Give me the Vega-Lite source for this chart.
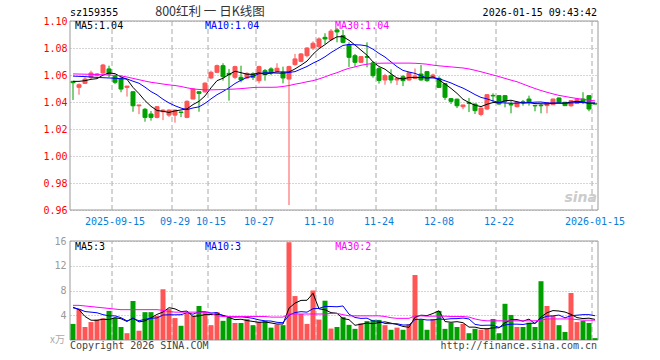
{
"$schema":"https://vega.github.io/schema/vega-lite/v6.json",
"width":528,"height":319,
"autosize":{"type":"none"},
"padding":{"left":70,"top":21,"right":62,"bottom":20},
"background":"white",
"config":{"view":{"stroke":null},"font":"DejaVu Sans Mono"},
"datasets":{
"k":[
{"d":"2025-09-04","o":1.0553,"h":1.0556,"l":1.0415,"c":1.0543,"v":2.6,"m5":1.0553,"m10":1.0592,"m30":1.0608,"v5":5.3,"v10":5.2,"v30":5.6},
{"d":"2025-09-05","o":1.0509,"h":1.0538,"l":1.0454,"c":1.0528,"v":5.0,"m5":1.0553,"m10":1.059,"m30":1.0607,"v5":4.9,"v10":5.0,"v30":5.6},
{"d":"2025-09-08","o":1.0538,"h":1.0583,"l":1.0533,"c":1.057,"v":2.1,"m5":1.0558,"m10":1.0588,"m30":1.0606,"v5":3.8,"v10":4.6,"v30":5.5},
{"d":"2025-09-09","o":1.0583,"h":1.0632,"l":1.057,"c":1.0615,"v":2.9,"m5":1.0568,"m10":1.0585,"m30":1.0605,"v5":3.2,"v10":4.5,"v30":5.4},
{"d":"2025-09-10","o":1.0595,"h":1.0614,"l":1.059,"c":1.0608,"v":3.3,"m5":1.0573,"m10":1.0582,"m30":1.0603,"v5":3.18,"v10":4.4,"v30":5.3},
{"d":"2025-09-11","o":1.0615,"h":1.0682,"l":1.0608,"c":1.0674,"v":3.5,"m5":1.0599,"m10":1.058,"m30":1.0602,"v5":3.36,"v10":4.1,"v30":5.2},
{"d":"2025-09-12","o":1.0645,"h":1.0669,"l":1.0583,"c":1.0608,"v":4.7,"m5":1.0615,"m10":1.0578,"m30":1.06,"v5":3.3,"v10":3.9,"v30":5.1},
{"d":"2025-09-15","o":1.059,"h":1.0603,"l":1.0533,"c":1.0546,"v":3.6,"m5":1.061,"m10":1.0576,"m30":1.0597,"v5":3.6,"v10":3.9,"v30":5.0},
{"d":"2025-09-16","o":1.0575,"h":1.0588,"l":1.0472,"c":1.0496,"v":2.1,"m5":1.0586,"m10":1.0572,"m30":1.0594,"v5":3.44,"v10":3.6,"v30":4.9},
{"d":"2025-09-17","o":1.0508,"h":1.0518,"l":1.044,"c":1.0518,"v":1.1,"m5":1.0568,"m10":1.0571,"m30":1.0585,"v5":3.0,"v10":3.09,"v30":4.9},
{"d":"2025-09-18","o":1.0476,"h":1.048,"l":1.0328,"c":1.0372,"v":6.3,"m5":1.0508,"m10":1.0554,"m30":1.0575,"v5":3.56,"v10":3.46,"v30":4.9},
{"d":"2025-09-19","o":1.0372,"h":1.0378,"l":1.031,"c":1.0378,"v":1.5,"m5":1.0462,"m10":1.0539,"m30":1.0565,"v5":2.92,"v10":3.11,"v30":4.9},
{"d":"2025-09-22","o":1.0346,"h":1.0355,"l":1.0254,"c":1.0286,"v":4.5,"m5":1.041,"m10":1.051,"m30":1.0555,"v5":3.1,"v10":3.35,"v30":4.9},
{"d":"2025-09-23","o":1.0311,"h":1.0333,"l":1.0262,"c":1.0286,"v":4.5,"m5":1.0368,"m10":1.0477,"m30":1.0546,"v5":3.58,"v10":3.51,"v30":4.9},
{"d":"2025-09-24","o":1.0286,"h":1.037,"l":1.0279,"c":1.0365,"v":3.9,"m5":1.0337,"m10":1.0453,"m30":1.054,"v5":4.14,"v10":3.57,"v30":4.9},
{"d":"2025-09-25","o":1.0328,"h":1.0345,"l":1.0266,"c":1.034,"v":8.2,"m5":1.0331,"m10":1.042,"m30":1.0533,"v5":4.52,"v10":4.04,"v30":4.8},
{"d":"2025-09-26","o":1.0303,"h":1.0346,"l":1.029,"c":1.034,"v":5.0,"m5":1.0323,"m10":1.0393,"m30":1.0527,"v5":5.22,"v10":4.07,"v30":4.6},
{"d":"2025-09-29","o":1.0303,"h":1.0343,"l":1.0247,"c":1.034,"v":3.55,"m5":1.0334,"m10":1.0372,"m30":1.0522,"v5":5.03,"v10":4.07,"v30":4.5},
{"d":"2025-09-30","o":1.0326,"h":1.0328,"l":1.0289,"c":1.0322,"v":2.3,"m5":1.0341,"m10":1.0355,"m30":1.0515,"v5":4.59,"v10":4.09,"v30":4.5},
{"d":"2025-10-09","o":1.0286,"h":1.0412,"l":1.028,"c":1.0405,"v":4.3,"m5":1.0349,"m10":1.0343,"m30":1.0505,"v5":4.67,"v10":4.41,"v30":4.5},
{"d":"2025-10-10","o":1.0422,"h":1.0503,"l":1.042,"c":1.0496,"v":3.9,"m5":1.0381,"m10":1.0356,"m30":1.0497,"v5":3.81,"v10":4.17,"v30":4.5},
{"d":"2025-10-13","o":1.0476,"h":1.0478,"l":1.0328,"c":1.0464,"v":5.5,"m5":1.0405,"m10":1.0364,"m30":1.0493,"v5":3.91,"v10":4.57,"v30":4.5},
{"d":"2025-10-14","o":1.0475,"h":1.0545,"l":1.047,"c":1.054,"v":4.5,"m5":1.0445,"m10":1.039,"m30":1.049,"v5":4.1,"v10":4.57,"v30":4.5},
{"d":"2025-10-15","o":1.0578,"h":1.0632,"l":1.057,"c":1.062,"v":2.4,"m5":1.0505,"m10":1.0423,"m30":1.049,"v5":4.12,"v10":4.36,"v30":4.3},
{"d":"2025-10-16","o":1.062,"h":1.0677,"l":1.0615,"c":1.0669,"v":4.5,"m5":1.0558,"m10":1.0454,"m30":1.0491,"v5":4.16,"v10":4.42,"v30":3.9},
{"d":"2025-10-17","o":1.0669,"h":1.0687,"l":1.0558,"c":1.0588,"v":3.1,"m5":1.0576,"m10":1.0478,"m30":1.0492,"v5":4.0,"v10":3.91,"v30":3.8},
{"d":"2025-10-20","o":1.0612,"h":1.0645,"l":1.041,"c":1.0603,"v":3.7,"m5":1.0604,"m10":1.0505,"m30":1.0494,"v5":3.64,"v10":3.78,"v30":3.8},
{"d":"2025-10-21","o":1.0583,"h":1.0669,"l":1.057,"c":1.0662,"v":2.75,"m5":1.0628,"m10":1.0537,"m30":1.0496,"v5":3.29,"v10":3.7,"v30":3.8},
{"d":"2025-10-22","o":1.0583,"h":1.0669,"l":1.0546,"c":1.0563,"v":2.75,"m5":1.0617,"m10":1.0561,"m30":1.0499,"v5":3.36,"v10":3.74,"v30":3.8},
{"d":"2025-10-23","o":1.0578,"h":1.062,"l":1.057,"c":1.0612,"v":3.4,"m5":1.0606,"m10":1.0582,"m30":1.0503,"v5":3.14,"v10":3.65,"v30":3.8},
{"d":"2025-10-24","o":1.0608,"h":1.062,"l":1.0563,"c":1.0583,"v":2.4,"m5":1.0605,"m10":1.059,"m30":1.0507,"v5":3.0,"v10":3.5,"v30":3.8},
{"d":"2025-10-27","o":1.0558,"h":1.0669,"l":1.0538,"c":1.0662,"v":2.95,"m5":1.0616,"m10":1.061,"m30":1.0509,"v5":2.85,"v10":3.25,"v30":3.8},
{"d":"2025-10-28","o":1.0632,"h":1.0645,"l":1.0558,"c":1.0603,"v":3.05,"m5":1.0605,"m10":1.0617,"m30":1.0509,"v5":2.91,"v10":3.1,"v30":3.8},
{"d":"2025-10-29","o":1.0645,"h":1.0657,"l":1.06,"c":1.0615,"v":2.0,"m5":1.0615,"m10":1.0616,"m30":1.0509,"v5":2.76,"v10":3.06,"v30":3.7},
{"d":"2025-10-30","o":1.0627,"h":1.0687,"l":1.062,"c":1.065,"v":2.5,"m5":1.0623,"m10":1.0614,"m30":1.051,"v5":2.58,"v10":2.86,"v30":3.7},
{"d":"2025-10-31","o":1.062,"h":1.0662,"l":1.0538,"c":1.0578,"v":2.4,"m5":1.0622,"m10":1.0613,"m30":1.0515,"v5":2.58,"v10":2.79,"v30":3.7},
{"d":"2025-11-03","o":1.057,"h":1.0669,"l":0.9637,"c":1.0662,"v":15.8,"m5":1.0622,"m10":1.0619,"m30":1.0522,"v5":5.15,"v10":4.0,"v30":4.2},
{"d":"2025-11-04","o":1.0677,"h":1.0756,"l":1.0669,"c":1.0719,"v":7.1,"m5":1.0645,"m10":1.0625,"m30":1.0532,"v5":5.96,"v10":4.44,"v30":4.2},
{"d":"2025-11-05","o":1.0701,"h":1.0762,"l":1.0694,"c":1.0756,"v":4.2,"m5":1.0673,"m10":1.0644,"m30":1.054,"v5":6.4,"v10":4.58,"v30":4.2},
{"d":"2025-11-06","o":1.0743,"h":1.0805,"l":1.0731,"c":1.08,"v":2.6,"m5":1.0703,"m10":1.0663,"m30":1.055,"v5":6.42,"v10":4.5,"v30":4.2},
{"d":"2025-11-07","o":1.08,"h":1.0849,"l":1.0785,"c":1.0835,"v":8.0,"m5":1.0754,"m10":1.0688,"m30":1.0558,"v5":7.54,"v10":5.06,"v30":4.2},
{"d":"2025-11-10","o":1.081,"h":1.0879,"l":1.08,"c":1.0867,"v":3.3,"m5":1.0795,"m10":1.0709,"m30":1.0571,"v5":5.04,"v10":5.1,"v30":4.2},
{"d":"2025-11-11","o":1.0879,"h":1.0909,"l":1.083,"c":1.0867,"v":6.35,"m5":1.0825,"m10":1.0735,"m30":1.0586,"v5":4.89,"v10":5.43,"v30":4.2},
{"d":"2025-11-12","o":1.0862,"h":1.094,"l":1.085,"c":1.0925,"v":1.85,"m5":1.0859,"m10":1.0766,"m30":1.0603,"v5":4.42,"v10":5.41,"v30":4.3},
{"d":"2025-11-13","o":1.0934,"h":1.0948,"l":1.0842,"c":1.0919,"v":2.1,"m5":1.0883,"m10":1.0793,"m30":1.0617,"v5":4.32,"v10":5.37,"v30":4.3},
{"d":"2025-11-14","o":1.0892,"h":1.0934,"l":1.0835,"c":1.0842,"v":3.7,"m5":1.0884,"m10":1.0819,"m30":1.0635,"v5":3.46,"v10":5.5,"v30":4.1},
{"d":"2025-11-17","o":1.0824,"h":1.0842,"l":1.066,"c":1.0731,"v":2.45,"m5":1.0857,"m10":1.0826,"m30":1.065,"v5":3.29,"v10":4.17,"v30":3.9},
{"d":"2025-11-18","o":1.0743,"h":1.0756,"l":1.0662,"c":1.0694,"v":1.8,"m5":1.0822,"m10":1.0824,"m30":1.066,"v5":2.38,"v10":3.64,"v30":3.9},
{"d":"2025-11-19","o":1.0694,"h":1.074,"l":1.069,"c":1.0736,"v":2.7,"m5":1.0784,"m10":1.0822,"m30":1.0672,"v5":2.55,"v10":3.49,"v30":3.9},
{"d":"2025-11-20","o":1.0736,"h":1.0842,"l":1.0657,"c":1.0731,"v":3.05,"m5":1.0747,"m10":1.0815,"m30":1.068,"v5":2.74,"v10":3.53,"v30":3.9},
{"d":"2025-11-21","o":1.069,"h":1.07,"l":1.058,"c":1.0595,"v":3.25,"m5":1.0697,"m10":1.0791,"m30":1.0685,"v5":2.65,"v10":3.06,"v30":3.9},
{"d":"2025-11-24","o":1.0647,"h":1.0657,"l":1.0536,"c":1.056,"v":3.25,"m5":1.0663,"m10":1.076,"m30":1.0687,"v5":2.81,"v10":3.05,"v30":3.9},
{"d":"2025-11-25","o":1.0563,"h":1.0608,"l":1.0528,"c":1.0595,"v":2.4,"m5":1.0643,"m10":1.0733,"m30":1.0688,"v5":2.93,"v10":2.66,"v30":3.8},
{"d":"2025-11-26","o":1.0595,"h":1.0642,"l":1.0538,"c":1.0563,"v":1.65,"m5":1.0609,"m10":1.0697,"m30":1.0688,"v5":2.72,"v10":2.64,"v30":3.6},
{"d":"2025-11-27","o":1.0563,"h":1.058,"l":1.0526,"c":1.0575,"v":2.0,"m5":1.0578,"m10":1.0662,"m30":1.0688,"v5":2.51,"v10":2.63,"v30":3.5},
{"d":"2025-11-28","o":1.0587,"h":1.06,"l":1.0518,"c":1.0558,"v":1.65,"m5":1.057,"m10":1.0634,"m30":1.0688,"v5":2.19,"v10":2.42,"v30":3.5},
{"d":"2025-12-01","o":1.0563,"h":1.062,"l":1.0558,"c":1.0617,"v":2.55,"m5":1.0582,"m10":1.0622,"m30":1.0688,"v5":2.05,"v10":2.43,"v30":3.5},
{"d":"2025-12-02","o":1.0575,"h":1.0649,"l":1.057,"c":1.0592,"v":10.5,"m5":1.0581,"m10":1.0612,"m30":1.0687,"v5":3.67,"v10":3.3,"v30":3.9},
{"d":"2025-12-03","o":1.0607,"h":1.0674,"l":1.0558,"c":1.0563,"v":3.35,"m5":1.0581,"m10":1.0595,"m30":1.0684,"v5":4.01,"v10":3.37,"v30":3.9},
{"d":"2025-12-04","o":1.0625,"h":1.063,"l":1.055,"c":1.0558,"v":1.65,"m5":1.0578,"m10":1.0578,"m30":1.068,"v5":3.94,"v10":3.23,"v30":3.85},
{"d":"2025-12-05","o":1.0585,"h":1.061,"l":1.058,"c":1.06,"v":3.4,"m5":1.0586,"m10":1.0578,"m30":1.0673,"v5":4.29,"v10":3.24,"v30":3.85},
{"d":"2025-12-08","o":1.0575,"h":1.059,"l":1.0505,"c":1.0508,"v":4.7,"m5":1.0564,"m10":1.0573,"m30":1.0668,"v5":4.72,"v10":3.39,"v30":3.85},
{"d":"2025-12-09","o":1.0536,"h":1.054,"l":1.0415,"c":1.0435,"v":1.8,"m5":1.0533,"m10":1.0557,"m30":1.0664,"v5":2.98,"v10":3.33,"v30":3.85},
{"d":"2025-12-10","o":1.0425,"h":1.043,"l":1.0385,"c":1.0405,"v":2.8,"m5":1.0501,"m10":1.0541,"m30":1.066,"v5":2.87,"v10":3.44,"v30":3.8},
{"d":"2025-12-11","o":1.0421,"h":1.0425,"l":1.0355,"c":1.0372,"v":2.1,"m5":1.0464,"m10":1.0521,"m30":1.0656,"v5":2.96,"v10":3.45,"v30":3.8},
{"d":"2025-12-12","o":1.0365,"h":1.038,"l":1.0346,"c":1.0378,"v":2.6,"m5":1.042,"m10":1.0503,"m30":1.0652,"v5":2.8,"v10":3.55,"v30":3.8},
{"d":"2025-12-15","o":1.0395,"h":1.043,"l":1.0325,"c":1.039,"v":1.1,"m5":1.0396,"m10":1.048,"m30":1.0645,"v5":2.08,"v10":3.4,"v30":3.7},
{"d":"2025-12-16","o":1.0385,"h":1.0388,"l":1.0311,"c":1.0336,"v":1.8,"m5":1.0376,"m10":1.0455,"m30":1.0635,"v5":2.08,"v10":2.53,"v30":3.4},
{"d":"2025-12-17","o":1.0308,"h":1.036,"l":1.0295,"c":1.0355,"v":1.65,"m5":1.0366,"m10":1.0434,"m30":1.0624,"v5":1.85,"v10":2.36,"v30":3.2},
{"d":"2025-12-18","o":1.0348,"h":1.0458,"l":1.034,"c":1.0454,"v":1.9,"m5":1.0383,"m10":1.0423,"m30":1.0612,"v5":1.81,"v10":2.39,"v30":3.1},
{"d":"2025-12-19","o":1.0449,"h":1.0464,"l":1.0398,"c":1.0445,"v":3.4,"m5":1.0396,"m10":1.0408,"m30":1.06,"v5":1.97,"v10":2.39,"v30":3.1},
{"d":"2025-12-22","o":1.0447,"h":1.0449,"l":1.038,"c":1.0385,"v":1.1,"m5":1.0395,"m10":1.0396,"m30":1.0588,"v5":1.97,"v10":2.03,"v30":3.1},
{"d":"2025-12-23","o":1.0447,"h":1.0452,"l":1.036,"c":1.0405,"v":5.85,"m5":1.0409,"m10":1.0393,"m30":1.0575,"v5":2.78,"v10":2.43,"v30":3.1},
{"d":"2025-12-24","o":1.0382,"h":1.041,"l":1.0316,"c":1.0378,"v":4.05,"m5":1.0413,"m10":1.039,"m30":1.0562,"v5":3.26,"v10":2.56,"v30":3.1},
{"d":"2025-12-25","o":1.0365,"h":1.0402,"l":1.036,"c":1.0398,"v":2.1,"m5":1.0402,"m10":1.0392,"m30":1.055,"v5":3.3,"v10":2.56,"v30":3.1},
{"d":"2025-12-26","o":1.0402,"h":1.0415,"l":1.0373,"c":1.0396,"v":2.1,"m5":1.0392,"m10":1.0394,"m30":1.0533,"v5":3.04,"v10":2.51,"v30":3.1},
{"d":"2025-12-29","o":1.0422,"h":1.0447,"l":1.0373,"c":1.0398,"v":2.8,"m5":1.0395,"m10":1.0395,"m30":1.0516,"v5":3.38,"v10":2.68,"v30":3.1},
{"d":"2025-12-30","o":1.0375,"h":1.0378,"l":1.0331,"c":1.0371,"v":2.1,"m5":1.0388,"m10":1.0399,"m30":1.05,"v5":2.63,"v10":2.71,"v30":3.1},
{"d":"2025-12-31","o":1.0376,"h":1.0385,"l":1.0316,"c":1.0372,"v":9.5,"m5":1.0387,"m10":1.04,"m30":1.0485,"v5":3.72,"v10":3.49,"v30":3.2},
{"d":"2026-01-05","o":1.0373,"h":1.0395,"l":1.0316,"c":1.0393,"v":5.5,"m5":1.0386,"m10":1.0394,"m30":1.0472,"v5":4.4,"v10":3.85,"v30":3.4},
{"d":"2026-01-06","o":1.038,"h":1.0425,"l":1.0378,"c":1.0422,"v":3.9,"m5":1.0391,"m10":1.0392,"m30":1.046,"v5":4.76,"v10":3.9,"v30":3.4},
{"d":"2026-01-07","o":1.043,"h":1.0432,"l":1.0395,"c":1.0398,"v":2.4,"m5":1.0391,"m10":1.0393,"m30":1.0449,"v5":4.68,"v10":4.03,"v30":3.4},
{"d":"2026-01-08","o":1.0398,"h":1.04,"l":1.037,"c":1.0373,"v":1.3,"m5":1.0392,"m10":1.039,"m30":1.0441,"v5":4.52,"v10":3.58,"v30":3.4},
{"d":"2026-01-09","o":1.0372,"h":1.0415,"l":1.0365,"c":1.041,"v":7.6,"m5":1.0399,"m10":1.0393,"m30":1.0433,"v5":4.14,"v10":3.93,"v30":3.4},
{"d":"2026-01-12","o":1.039,"h":1.0425,"l":1.0385,"c":1.0422,"v":2.9,"m5":1.0405,"m10":1.0396,"m30":1.0426,"v5":3.62,"v10":4.01,"v30":3.3},
{"d":"2026-01-13","o":1.0422,"h":1.0472,"l":1.0385,"c":1.0398,"v":3.1,"m5":1.04,"m10":1.0396,"m30":1.042,"v5":3.46,"v10":4.1,"v30":3.2},
{"d":"2026-01-14","o":1.0447,"h":1.0452,"l":1.0331,"c":1.0348,"v":2.75,"m5":1.039,"m10":1.0391,"m30":1.0413,"v5":3.53,"v10":4.1,"v30":3.2},
{"d":"2026-01-15","o":1.0387,"h":1.0387,"l":1.0383,"c":1.0385,"v":0.3,"m5":1.0393,"m10":1.0392,"m30":1.0408,"v5":3.33,"v10":3.92,"v30":3.2}
],
"g":[{"d":"2025-09-15"},{"d":"2025-09-29"},{"d":"2025-10-15"},{"d":"2025-10-27"},{"d":"2025-11-10"},{"d":"2025-11-24"},{"d":"2025-12-08"},{"d":"2025-12-22"},{"d":"2026-01-15"}]
},
"layer":[
{"layer":[
 {"data":{"values":[{}]},"mark":{"type":"rect","fill":null,"stroke":"#999","strokeWidth":1},
  "encoding":{"y":{"datum":0.96,"type":"quantitative","scale":{"domain":[0.96,1.10],"range":[189,0],"nice":false,"zero":false},
   "axis":{"orient":"left","values":[0.96,0.98,1.0,1.02,1.04,1.06,1.08,1.10],"format":".2f","labelColor":"#ff0000","labelFont":"DejaVu Sans Mono","labelFontSize":10,"ticks":false,"domain":false,"labelPadding":3,"grid":true,"gridDash":[1,2],"gridColor":"#aaa","title":null}},
   "y2":{"datum":1.10}}},
 {"data":{"name":"g"},"mark":{"type":"rule","stroke":"#aaa","strokeDash":[5,3],"strokeWidth":1},
  "encoding":{"x":{"field":"d","type":"ordinal","bandPosition":0,"scale":{"type":"band","paddingInner":0,"paddingOuter":0}},
   "y":{"datum":0.96,"type":"quantitative","scale":{"domain":[0.96,1.10],"range":[189,0],"nice":false,"zero":false}},"y2":{"datum":1.10}}},
 {"data":{"name":"k"},"mark":{"type":"rule","strokeWidth":1},
  "encoding":{"x":{"field":"d","type":"ordinal","scale":{"type":"band","paddingInner":0,"paddingOuter":0},
    "axis":{"values":["2025-09-15","2025-09-29","2025-10-15","2025-10-27","2025-11-10","2025-11-24","2025-12-08","2025-12-22","2026-01-15"],"bandPosition":0,"labelExpr":"datum.value == '2025-09-15' || datum.value == '2026-01-15' ? datum.value : substring(datum.value, 5)","domain":false,"ticks":false,"grid":false,"labelFont":"DejaVu Sans Mono","labelFontSize":10,"labelColor":"#0a7ed9","labelPadding":6,"labelAlign":"center","labelBaseline":"top","offset":-130,"title":null,"labelAngle":0,"labelOverlap":false,"labelBound":false,"labelFlush":false}},
   "y":{"field":"l","type":"quantitative","scale":{"domain":[0.96,1.10],"range":[189,0],"nice":false,"zero":false}},"y2":{"field":"h"},
   "color":{"condition":{"test":"datum.c >= datum.o","value":"#ff5555"},"value":"#00a000"}}},
 {"data":{"name":"k"},"mark":{"type":"bar","size":4,"strokeWidth":1},
  "encoding":{"x":{"field":"d","type":"ordinal","scale":{"type":"band","paddingInner":0,"paddingOuter":0}},
   "y":{"field":"o","type":"quantitative","scale":{"domain":[0.96,1.10],"range":[189,0],"nice":false,"zero":false}},"y2":{"field":"c"},
   "fill":{"condition":{"test":"datum.c >= datum.o","value":"#ff5555"},"value":"#00a000"},
   "stroke":{"condition":{"test":"datum.c >= datum.o","value":"#ff5555"},"value":"#00a000"}}},
 {"data":{"name":"k"},"mark":{"type":"line","stroke":"#000000","strokeWidth":1},
  "encoding":{"x":{"field":"d","type":"ordinal","scale":{"type":"band","paddingInner":0,"paddingOuter":0}},
   "y":{"field":"m5","type":"quantitative","scale":{"domain":[0.96,1.10],"range":[189,0],"nice":false,"zero":false}}}},
 {"data":{"name":"k"},"mark":{"type":"line","stroke":"#0000ff","strokeWidth":1},
  "encoding":{"x":{"field":"d","type":"ordinal","scale":{"type":"band","paddingInner":0,"paddingOuter":0}},
   "y":{"field":"m10","type":"quantitative","scale":{"domain":[0.96,1.10],"range":[189,0],"nice":false,"zero":false}}}},
 {"data":{"name":"k"},"mark":{"type":"line","stroke":"#ff00ff","strokeWidth":1},
  "encoding":{"x":{"field":"d","type":"ordinal","scale":{"type":"band","paddingInner":0,"paddingOuter":0}},
   "y":{"field":"m30","type":"quantitative","scale":{"domain":[0.96,1.10],"range":[189,0],"nice":false,"zero":false}}}},
 {"data":{"values":[{}]},"mark":{"type":"text","text":"MA5:1.04","align":"left","baseline":"middle","font":"DejaVu Sans Mono","fontSize":10,"fill":"#000000","dx":5},
  "encoding":{"x":{"datum":"2025-09-04","type":"ordinal","bandPosition":0,"scale":{"type":"band","paddingInner":0,"paddingOuter":0}},
   "y":{"datum":1.0963,"type":"quantitative","scale":{"domain":[0.96,1.10],"range":[189,0],"nice":false,"zero":false}}}},
 {"data":{"values":[{}]},"mark":{"type":"text","text":"MA10:1.04","align":"left","baseline":"middle","font":"DejaVu Sans Mono","fontSize":10,"fill":"#0000ff"},
  "encoding":{"x":{"datum":"2025-10-14","type":"ordinal","bandPosition":0.5,"scale":{"type":"band","paddingInner":0,"paddingOuter":0}},
   "y":{"datum":1.0963,"type":"quantitative","scale":{"domain":[0.96,1.10],"range":[189,0],"nice":false,"zero":false}}}},
 {"data":{"values":[{}]},"mark":{"type":"text","text":"MA30:1.04","align":"left","baseline":"middle","font":"DejaVu Sans Mono","fontSize":10,"fill":"#ff00ff"},
  "encoding":{"x":{"datum":"2025-11-13","type":"ordinal","bandPosition":0.17,"scale":{"type":"band","paddingInner":0,"paddingOuter":0}},
   "y":{"datum":1.0963,"type":"quantitative","scale":{"domain":[0.96,1.10],"range":[189,0],"nice":false,"zero":false}}}},
 {"data":{"values":[{}]},"mark":{"type":"text","text":"sz159355","align":"left","baseline":"middle","font":"DejaVu Sans Mono","fontSize":10,"fill":"#000000"},
  "encoding":{"x":{"datum":"2025-09-04","type":"ordinal","bandPosition":0,"scale":{"type":"band","paddingInner":0,"paddingOuter":0}},
   "y":{"datum":1.1058,"type":"quantitative","scale":{"domain":[0.96,1.10],"range":[189,0],"nice":false,"zero":false}}}},
 {"data":{"values":[{}]},"mark":{"type":"text","text":"800红利 一 日K线图","align":"center","baseline":"middle","font":"Noto Sans CJK SC","fontSize":12.5,"fill":"#333333"},
  "encoding":{"x":{"datum":"2025-10-15","type":"ordinal","bandPosition":0.33,"scale":{"type":"band","paddingInner":0,"paddingOuter":0}},
   "y":{"datum":1.1065,"type":"quantitative","scale":{"domain":[0.96,1.10],"range":[189,0],"nice":false,"zero":false}}}},
 {"data":{"values":[{}]},"mark":{"type":"text","text":"2026-01-15 09:43:42","align":"right","baseline":"middle","font":"DejaVu Sans Mono","fontSize":10,"fill":"#000000","dx":-1},
  "encoding":{"x":{"datum":"2026-01-15","type":"ordinal","bandPosition":1,"scale":{"type":"band","paddingInner":0,"paddingOuter":0}},
   "y":{"datum":1.1058,"type":"quantitative","scale":{"domain":[0.96,1.10],"range":[189,0],"nice":false,"zero":false}}}},
 {"data":{"values":[{}]},"mark":{"type":"text","text":"sina","align":"right","baseline":"middle","font":"DejaVu Sans","fontStyle":"italic","fontWeight":"bold","fontSize":14,"fill":"#cccccc","dx":-1},
  "encoding":{"x":{"datum":"2026-01-15","type":"ordinal","bandPosition":1,"scale":{"type":"band","paddingInner":0,"paddingOuter":0}},
   "y":{"datum":0.9688,"type":"quantitative","scale":{"domain":[0.96,1.10],"range":[189,0],"nice":false,"zero":false}}}}
]},
{"layer":[
 {"data":{"values":[{}]},"mark":{"type":"rect","fill":null,"stroke":"#999","strokeWidth":1},
  "encoding":{"y":{"datum":0,"type":"quantitative","scale":{"domain":[0,16],"range":[319,220],"nice":false,"zero":false},
   "axis":{"orient":"left","values":[4,8,12,16],"labelColor":"#999999","labelFont":"DejaVu Sans Mono","labelFontSize":10,"ticks":false,"domain":false,"labelPadding":4,"grid":true,"gridDash":[1,2],"gridColor":"#aaa","title":null}},
   "y2":{"datum":16}}},
 {"data":{"name":"g"},"mark":{"type":"rule","stroke":"#aaa","strokeDash":[5,3],"strokeWidth":1},
  "encoding":{"x":{"field":"d","type":"ordinal","bandPosition":0,"scale":{"type":"band","paddingInner":0,"paddingOuter":0}},
   "y":{"datum":0,"type":"quantitative","scale":{"domain":[0,16],"range":[319,220],"nice":false,"zero":false}},"y2":{"datum":16}}},
 {"data":{"name":"k"},"mark":{"type":"bar","size":5},
  "encoding":{"x":{"field":"d","type":"ordinal","scale":{"type":"band","paddingInner":0,"paddingOuter":0}},
   "y":{"field":"v","type":"quantitative","scale":{"domain":[0,16],"range":[319,220],"nice":false,"zero":false}},"y2":{"datum":0},
   "fill":{"condition":{"test":"datum.c >= datum.o","value":"#ff5555"},"value":"#00a000"}}},
 {"data":{"name":"k"},"mark":{"type":"line","stroke":"#000000","strokeWidth":1},
  "encoding":{"x":{"field":"d","type":"ordinal","scale":{"type":"band","paddingInner":0,"paddingOuter":0}},
   "y":{"field":"v5","type":"quantitative","scale":{"domain":[0,16],"range":[319,220],"nice":false,"zero":false}}}},
 {"data":{"name":"k"},"mark":{"type":"line","stroke":"#0000ff","strokeWidth":1},
  "encoding":{"x":{"field":"d","type":"ordinal","scale":{"type":"band","paddingInner":0,"paddingOuter":0}},
   "y":{"field":"v10","type":"quantitative","scale":{"domain":[0,16],"range":[319,220],"nice":false,"zero":false}}}},
 {"data":{"name":"k"},"mark":{"type":"line","stroke":"#ff00ff","strokeWidth":1},
  "encoding":{"x":{"field":"d","type":"ordinal","scale":{"type":"band","paddingInner":0,"paddingOuter":0}},
   "y":{"field":"v30","type":"quantitative","scale":{"domain":[0,16],"range":[319,220],"nice":false,"zero":false}}}},
 {"data":{"values":[{}]},"mark":{"type":"text","text":"MA5:3","align":"left","baseline":"middle","font":"DejaVu Sans Mono","fontSize":10,"fill":"#000000","dx":5},
  "encoding":{"x":{"datum":"2025-09-04","type":"ordinal","bandPosition":0,"scale":{"type":"band","paddingInner":0,"paddingOuter":0}},
   "y":{"datum":15.1,"type":"quantitative","scale":{"domain":[0,16],"range":[319,220],"nice":false,"zero":false}}}},
 {"data":{"values":[{}]},"mark":{"type":"text","text":"MA10:3","align":"left","baseline":"middle","font":"DejaVu Sans Mono","fontSize":10,"fill":"#0000ff"},
  "encoding":{"x":{"datum":"2025-10-14","type":"ordinal","bandPosition":0.5,"scale":{"type":"band","paddingInner":0,"paddingOuter":0}},
   "y":{"datum":15.1,"type":"quantitative","scale":{"domain":[0,16],"range":[319,220],"nice":false,"zero":false}}}},
 {"data":{"values":[{}]},"mark":{"type":"text","text":"MA30:2","align":"left","baseline":"middle","font":"DejaVu Sans Mono","fontSize":10,"fill":"#ff00ff"},
  "encoding":{"x":{"datum":"2025-11-13","type":"ordinal","bandPosition":0.2,"scale":{"type":"band","paddingInner":0,"paddingOuter":0}},
   "y":{"datum":15.1,"type":"quantitative","scale":{"domain":[0,16],"range":[319,220],"nice":false,"zero":false}}}},
 {"data":{"values":[{}]},"mark":{"type":"text","text":"Copyright 2026 SINA.COM","align":"left","baseline":"middle","font":"DejaVu Sans Mono","fontSize":10,"fill":"#444444"},
  "encoding":{"x":{"datum":"2025-09-04","type":"ordinal","bandPosition":0,"scale":{"type":"band","paddingInner":0,"paddingOuter":0}},
   "y":{"datum":-0.9,"type":"quantitative","scale":{"domain":[0,16],"range":[319,220],"nice":false,"zero":false}}}},
 {"data":{"values":[{}]},"mark":{"type":"text","text":"http://finance.sina.com.cn","align":"right","baseline":"middle","font":"DejaVu Sans Mono","fontSize":10,"fill":"#444444","dx":-1},
  "encoding":{"x":{"datum":"2026-01-15","type":"ordinal","bandPosition":1,"scale":{"type":"band","paddingInner":0,"paddingOuter":0}},
   "y":{"datum":-0.9,"type":"quantitative","scale":{"domain":[0,16],"range":[319,220],"nice":false,"zero":false}}}},
 {"data":{"values":[{}]},"mark":{"type":"text","text":"x万","align":"right","baseline":"middle","font":"Noto Sans CJK SC","fontSize":10,"fill":"#aaaaaa","dx":-5},
  "encoding":{"x":{"datum":"2025-09-04","type":"ordinal","bandPosition":0,"scale":{"type":"band","paddingInner":0,"paddingOuter":0}},
   "y":{"datum":0,"type":"quantitative","scale":{"domain":[0,16],"range":[319,220],"nice":false,"zero":false}}}}
]}
],
"resolve":{"scale":{"y":"independent"},"axis":{"y":"independent"}}
}
